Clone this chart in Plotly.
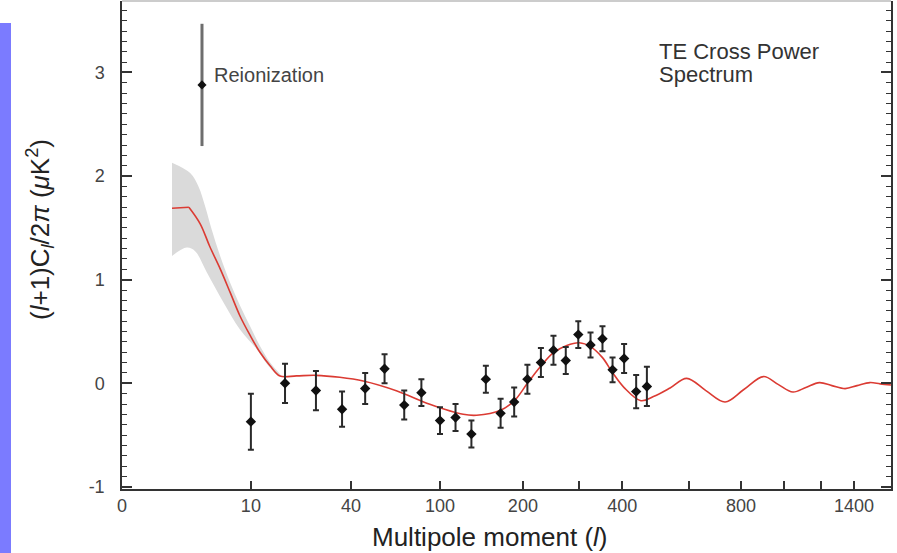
import numpy as np
import plotly.graph_objects as go

# ---------------- data ----------------
# binned TE cross power points (multipole l, value, 1-sigma error)
TE_L = [10, 17, 26, 36, 47, 58, 71, 84, 100, 115, 132, 149, 168, 187, 207,
        229, 251, 274, 299, 325, 352, 376, 405, 437, 467]
TE_VAL = [-0.37, 0.00, -0.07, -0.25, -0.05, 0.14, -0.21, -0.09, -0.36, -0.33,
          -0.49, 0.04, -0.29, -0.18, 0.04, 0.20, 0.32, 0.22, 0.47, 0.37,
          0.43, 0.13, 0.24, -0.08, -0.03]
TE_ERR = [0.27, 0.19, 0.19, 0.17, 0.15, 0.14, 0.14, 0.13, 0.13, 0.13,
          0.13, 0.13, 0.14, 0.14, 0.14, 0.14, 0.14, 0.13, 0.13, 0.12,
          0.12, 0.12, 0.14, 0.16, 0.19]

# reionization point
REION_L = [4]
REION_VAL = [2.88]
REION_ERR = [0.59]

# best-fit model curve
MODEL_L_LOW = [2, 3]
MODEL_VAL_LOW = [1.69, 1.70]
MODEL_L = [3, 3.85, 4.7, 5.8, 7, 8.3, 9.9, 11.6, 13.6, 15.8, 20, 26, 35, 46,
           66, 91, 123, 138, 168, 187, 207, 229, 251, 276, 301, 325, 352, 376,
           405, 450, 486, 537, 592, 660, 734, 812, 900, 970, 1045, 1114, 1190,
           1263, 1344, 1420, 1506, 1577, 1655]
MODEL_VAL = [1.70, 1.54, 1.32, 1.10, 0.87, 0.65, 0.46, 0.30, 0.17, 0.07, 0.072,
             0.077, 0.058, 0.022, -0.074, -0.202, -0.299, -0.308, -0.26, -0.17,
             0.0, 0.167, 0.296, 0.366, 0.392, 0.354, 0.248, 0.103, -0.041,
             -0.168, -0.128, -0.045, 0.048, -0.07, -0.18, -0.06, 0.065, -0.01,
             -0.084, -0.04, 0.007, -0.022, -0.051, -0.022, 0.007, -0.005, -0.016]

# cosmic-variance band around the model at low l
BAND_UP_L = [2, 3.09, 3.71, 4.27, 4.9, 5.77, 6.96, 8.3, 9.87, 11.6, 13.6, 16]
BAND_UP_VAL = [2.13, 2.03, 1.90, 1.71, 1.48, 1.23, 0.97, 0.75, 0.55, 0.36, 0.20, 0.075]
BAND_LO_L = [2, 2.86, 3.45, 4.43, 6.15, 8.3, 11.0, 13.6, 16]
BAND_LO_VAL = [1.23, 1.31, 1.275, 1.07, 0.78, 0.52, 0.33, 0.15, 0.065]

# axis ticks
X_TICK_L = [0, 10, 40, 100, 200, 400, 800, 1400]
X_TICK_TEXT = ["0", "10", "40", "100", "200", "400", "800", "1400"]
X_MINOR_L = [300, 600, 1000, 1200]
Y_TICKS = [-1, 0, 1, 2, 3]
Y_TICK_TEXT = ["-1", "0", "1", "2", "3"]

# x scale of the original figure (power-law stretched multipole axis)
X_POWER = 0.26
X_FLOOR = 0.43
X_MAX_L = 1655


def xs(l):
    return np.maximum(np.asarray(l, dtype=float), X_FLOOR) ** X_POWER


FONT = "Liberation Sans, Arial, Helvetica, sans-serif"
TXT = "#333333"

fig = go.Figure()

# band
band_x = np.concatenate([xs(BAND_UP_L), xs(BAND_LO_L)[::-1]])
band_y = np.concatenate([BAND_UP_VAL, BAND_LO_VAL[::-1]])
fig.add_trace(go.Scatter(x=band_x, y=band_y, mode="lines", fill="toself",
                         fillcolor="#dadada", line=dict(width=0, color="#dadada", shape="spline"),
                         hoverinfo="skip", showlegend=False))

# model curve
fig.add_trace(go.Scatter(x=xs(MODEL_L_LOW), y=MODEL_VAL_LOW, mode="lines",
                         line=dict(color="#db3b33", width=1.6), showlegend=False))
fig.add_trace(go.Scatter(x=xs(MODEL_L), y=MODEL_VAL, mode="lines",
                         line=dict(color="#db3b33", width=1.6, shape="spline", smoothing=1.0),
                         showlegend=False))

# reionization point
fig.add_trace(go.Scatter(x=xs(REION_L), y=REION_VAL, mode="markers",
                         marker=dict(color="#111111", size=7, symbol="diamond"),
                         error_y=dict(type="data", array=REION_ERR, color="#6e6e6e",
                                      thickness=3, width=0),
                         showlegend=False))

# binned data
fig.add_trace(go.Scatter(x=xs(TE_L), y=TE_VAL, mode="markers",
                         marker=dict(color="#111111", size=8, symbol="diamond"),
                         error_y=dict(type="data", array=TE_ERR, color="#2a2a2a",
                                      thickness=2, width=3),
                         showlegend=False))

x0 = float(xs(X_FLOOR))
x1 = float(xs(X_MAX_L))

fig.update_layout(
    width=897, height=553,
    margin=dict(l=122, r=6, t=1, b=64),
    paper_bgcolor="white", plot_bgcolor="white",
    font=dict(family=FONT, color=TXT, size=18),
    xaxis=dict(range=[x0, x1], tickvals=xs(X_TICK_L), ticktext=X_TICK_TEXT,
               ticks="inside", ticklen=8, tickwidth=1.5, tickcolor="#333",
               minor=dict(tickmode="array", tickvals=xs(X_MINOR_L), ticks="inside",
                          ticklen=8, tickwidth=1.5, tickcolor="#333"),
               showline=True, linecolor="#333", linewidth=1.5, mirror=False,
               showgrid=False, zeroline=False, automargin=False,
               tickfont=dict(size=18, color="#444"), ticklabelstandoff=0),
    yaxis=dict(range=[-1.02, 3.69], tickvals=Y_TICKS, ticktext=Y_TICK_TEXT,
               ticks="inside", ticklen=10, tickwidth=1.5, tickcolor="#333",
               showline=True, linecolor="#333", linewidth=1.5, mirror="ticks",
               minor=dict(tickmode="linear", tick0=-1, dtick=0.1, ticks="inside",
                          ticklen=5, tickwidth=1.3, tickcolor="#333"),
               showgrid=False, zeroline=False, automargin=False,
               tickfont=dict(size=18, color="#444"), ticklabelstandoff=12),
    shapes=[
        dict(type="line", xref="paper", yref="paper", x0=0, x1=1, y0=1, y1=1,
             line=dict(color="#9a9a9a", width=1.2)),
        dict(type="rect", xref="paper", yref="paper",
             x0=-122 / 769, x1=-111 / 769, y0=-0.135, y1=1 - 22 / 488,
             line=dict(width=0), fillcolor="#7b7bff"),
    ],
    annotations=[
        dict(text="Reionization", x=float(xs(REION_L)[0]), y=2.98, xref="x", yref="y",
             xanchor="left", yanchor="middle", xshift=10, showarrow=False,
             font=dict(size=20, color="#444")),
        dict(text="TE Cross Power", x=(657 - 122) / 769, y=1 - (51 - 1) / 488,
             xref="paper", yref="paper", xanchor="left", yanchor="middle",
             showarrow=False, font=dict(size=22, color="#333")),
        dict(text="Spectrum", x=(657 - 122) / 769, y=1 - (74 - 1) / 488,
             xref="paper", yref="paper", xanchor="left", yanchor="middle",
             showarrow=False, font=dict(size=22, color="#333")),
        dict(text="Multipole moment (<i>l</i>)", x=(490 - 122) / 769, y=1 - (537 - 1) / 488,
             xref="paper", yref="paper", xanchor="center", yanchor="middle",
             showarrow=False, font=dict(size=26, color="#222")),
        dict(text="(<i>l</i>+1)C<sub><i>l</i></sub>/2<i>π</i> (<i>μ</i>K<sup>2</sup>)",
             x=(40 - 122) / 769, y=1 - (230 - 1) / 488, xref="paper", yref="paper",
             xanchor="center", yanchor="middle", textangle=-90,
             showarrow=False, font=dict(size=26, color="#222")),
    ],
)

fig.write_html("out.html", config={"displayModeBar": False},
               post_script="document.body.style.margin='0';document.body.style.overflow='hidden';")
